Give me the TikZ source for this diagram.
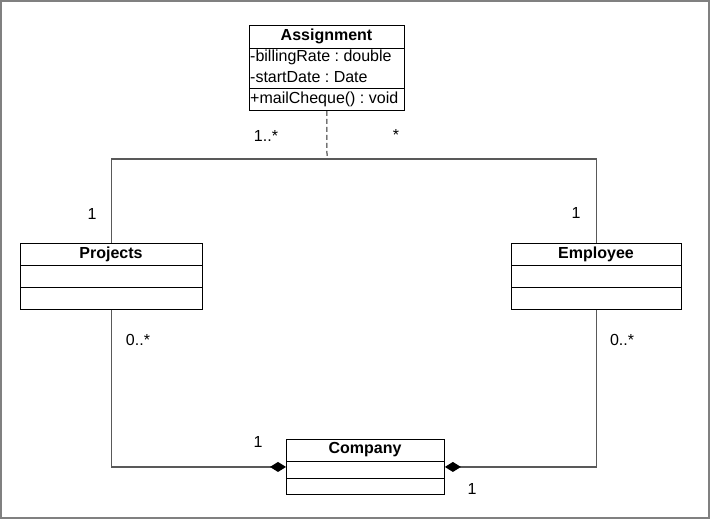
\documentclass[tikz,border=0pt]{standalone}
\usepackage{fontspec}
\setmainfont{Liberation Sans}
\usetikzlibrary{arrows.meta,calc}
\begin{document}
\frenchspacing
\begin{tikzpicture}[x=1pt,y=-1pt,
  every node/.style={font=\fontsize{16}{18}\selectfont, inner sep=0pt},
  classbox/.style={draw=black, line width=0.9pt, anchor=north west, rectangle},
  sepline/.style={draw=black, line width=0.9pt},
  conn/.style={draw=black!65, line width=1.3pt},
  dashconn/.style={draw=black!85, line width=1pt, dash pattern=on 5pt off 3pt},
  comp/.style={conn, -{Diamond[length=16pt,width=10pt,fill=black,color=black]}},
  mult/.style={anchor=center}
]
\useasboundingbox (0,0) rectangle (711,519);
\draw[draw=black!50, line width=2pt] (1,1) rectangle (709,517.5);

% Assignment
\node[classbox, minimum width=155pt, minimum height=85pt] (asg) at (249,25) {};
\draw[sepline] (249,48) -- (404,48);
\draw[sepline] (249,88) -- (404,88);
\node (asgt) at (326.5,36.5) {\bfseries Assignment};
\node[anchor=west] (asg1) at (250,57.5) {-billingRate : double};
\node[anchor=west] (asg2) at (250,77) {-startDate : Date};
\node[anchor=west] (asg3) at (250,99) {+mailCheque() : void};

% Projects
\node[classbox, minimum width=182pt, minimum height=66pt] (pr) at (20,243) {};
\draw[sepline] (20,265) -- (202,265);
\draw[sepline] (20,287) -- (202,287);
\node (prt) at (111,254) {\bfseries Projects};

% Employee
\node[classbox, minimum width=170pt, minimum height=66pt] (em) at (511,243) {};
\draw[sepline] (511,265) -- (681,265);
\draw[sepline] (511,287) -- (681,287);
\node (emt) at (596,254) {\bfseries Employee};

% Company
\node[classbox, minimum width=158pt, minimum height=55pt] (co) at (286,439) {};
\draw[sepline] (286,461) -- (444,461);
\draw[sepline] (286,478) -- (444,478);
\node (cot) at (365,450) {\bfseries Company};

% connectors
\coordinate (j) at (327,159);
\draw[dashconn] (asg.south) -- (j);
\draw[conn] (pr.north) |- (j) -| (em.north);
\draw[comp] (pr.south) |- (co.west);
\draw[comp] (em.south) |- (co.east);

% multiplicities
\node[mult] (m1) at (266,136) {1..*};
\node[mult] (m2) at (396,135) {*};
\node[mult] (m3) at (92,214) {1};
\node[mult] (m4) at (576,213) {1};
\node[mult] (m5) at (138,340) {0..*};
\node[mult] (m6) at (622,340) {0..*};
\node[mult] (m7) at (258,442) {1};
\node[mult] (m8) at (472,489) {1};
\end{tikzpicture}
\end{document}
